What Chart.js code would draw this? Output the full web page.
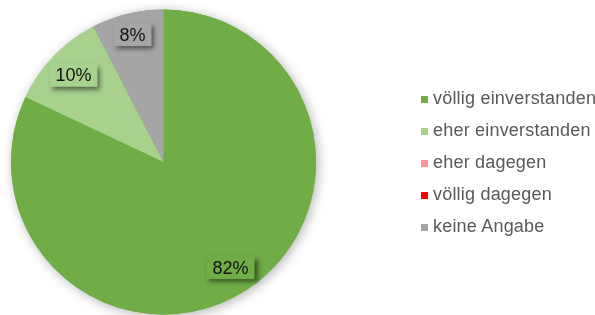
<!DOCTYPE html>
<html>
<head>
<meta charset="utf-8">
<script src="https://cdn.jsdelivr.net/npm/chart.js@4/dist/chart.umd.min.js"></script>
<style>
    body { margin: 0; background: #fff; }
    #wrap { position: relative; width: 595px; height: 315px; overflow: hidden; }
    #legend { position: absolute; left: 421px; top: 84px; margin: 0; padding: 0; list-style: none;
              font-family: Arial, 'Liberation Sans', sans-serif; font-size: 18px; letter-spacing: 0.2px;
              color: #595959; white-space: nowrap; }
    #legend li { height: 32px; line-height: 28px; }
    #legend span { display: inline-block; width: 7px; height: 7px; margin-right: 5px; vertical-align: 1px; }
</style>
</head>
<body>
<div id="wrap">
    <canvas id="pie" width="595" height="315"></canvas>
    <ul id="legend"></ul>
</div>
<script>
const categories = ['völlig einverstanden', 'eher einverstanden', 'eher dagegen', 'völlig dagegen', 'keine Angabe'];
const shares = [82, 10.4, 0, 0, 7.6];
const sliceColors = ['#70AD47', '#A9D18E', '#FF939A', '#FF0000', '#A5A5A5'];

window.onload = () => {
    let legendList = document.getElementById('legend');
    categories.forEach((name, i) => {
        let item = document.createElement('li');
        item.innerHTML = '<span style="background:' + sliceColors[i] + '"></span>' + name;
        legendList.appendChild(item);
    });

    // soft shadow under the whole pie
    let pieShadow = {
        id: 'pieShadow',
        beforeDatasetsDraw(chart) {
            let arc = chart.getDatasetMeta(0).data[0];
            let ctx = chart.ctx;
            ctx.save();
            ctx.shadowColor = 'rgba(0, 0, 0, 0.3)';
            ctx.shadowBlur = 12;
            ctx.shadowOffsetX = 2;
            ctx.shadowOffsetY = 2;
            ctx.fillStyle = sliceColors[0];
            ctx.beginPath();
            ctx.arc(arc.x, arc.y, arc.outerRadius, 0, Math.PI * 2);
            ctx.fill();
            ctx.restore();
        }
    };

    // percentage boxes with a drop shadow
    let boxLabels = {
        id: 'boxLabels',
        afterDatasetsDraw(chart) {
            let ctx = chart.ctx;
            let values = chart.data.datasets[0].data;
            let total = values.reduce((a, b) => a + b, 0);
            ctx.save();
            ctx.font = '18px Arial, "Liberation Sans", sans-serif';
            ctx.textAlign = 'center';
            ctx.textBaseline = 'middle';
            chart.getDatasetMeta(0).data.forEach((arc, i) => {
                if (!values[i]) return;
                let mid = (arc.startAngle + arc.endAngle) / 2;
                let share = values[i] / total;
                // small slices sit a little closer to the rim
                let k = share < 0.09 ? 0.86 : 0.82;
                let x = arc.x + Math.cos(mid) * arc.outerRadius * k;
                let y = arc.y + Math.sin(mid) * arc.outerRadius * k;
                let text = Math.round(share * 100) + '%';
                let w = ctx.measureText(text).width + 12;
                let h = 23;
                ctx.save();
                ctx.shadowColor = 'rgba(0, 0, 0, 0.55)';
                ctx.shadowBlur = 5;
                ctx.shadowOffsetX = 3;
                ctx.shadowOffsetY = 3;
                ctx.fillStyle = sliceColors[i];
                ctx.fillRect(x - w / 2, y - h / 2, w, h);
                ctx.restore();
                ctx.fillStyle = '#111';
                ctx.fillText(text, x, y + 1);
            });
            ctx.restore();
        }
    };

    new Chart(document.getElementById('pie'), {
        type: 'pie',
        data: {
            labels: categories,
            datasets: [{
                data: shares,
                backgroundColor: sliceColors,
                borderWidth: 0
            }]
        },
        options: {
            responsive: false,
            animation: false,
            layout: { padding: { left: 11, right: 279, top: 9, bottom: 0 } },
            plugins: {
                legend: { display: false },
                tooltip: { enabled: false }
            }
        },
        plugins: [pieShadow, boxLabels]
    });
}
</script>
</body>
</html>
